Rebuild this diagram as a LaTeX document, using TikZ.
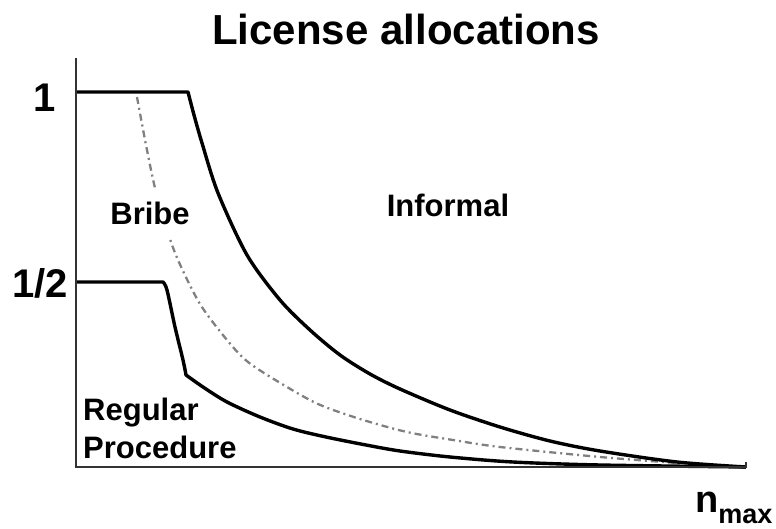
\documentclass[tikz,border=0pt]{standalone}
\usepackage{fontspec}
\setmainfont{Liberation Sans}
\usepackage{tikz}

\begin{document}
\begin{tikzpicture}[x=1pt,y=1pt,
		curve/.style={line width=3.4pt, line join=round},
		bribeline/.style={gray, line width=2.3pt, dash pattern=on 7pt off 4pt on 2pt off 4pt},
		axis/.style={line width=1.6pt, black!80},
		lbl/.style={inner sep=0pt, anchor=base, font=\fontsize{31}{38}\selectfont\bfseries}]
		\useasboundingbox (-76,-61) rectangle (700,467);
		\coordinate (O) at (0,0);
		\coordinate (ytop) at (0,409);
		\coordinate (xend) at (670,0);
		\coordinate (full) at (0,375);
		\coordinate (half) at (0,185);
		
		% dash-dot curve between Bribe and Informal
		\draw[bribeline] plot[smooth] coordinates {(61,370) (70,322) (79,279) (90,240) (102,207) (124,163) (151,127) (172,105) (206,83) (242,63) (284,48) (331,35) (377,27) (424,20) (524,10) (601,4)};
		
		\draw[curve] (full) -- (112,375) -- plot[smooth] coordinates {(112,375) (118,352) (126,324) (142,274) (171,212) (204,167) (234,137) (264,112) (294,93) (324,78) (374,57) (424,40) (474,26) (524,16) (601,5) (670,0)};
		\draw[curve] (half) -- (87,185) -- plot[smooth] coordinates {(87,185) (91,177) (99,140) (107,107) (110,92)}
			-- plot[smooth] coordinates {(110,92) (127,80) (151,65) (184,50) (217,38) (250,30) (290,22) (324,16) (374,10) (437,5) (524,2) (670,0)};
		
		\draw[axis] (ytop) -- (O) -- (xend) -- ++(0,5);
		
		\node[lbl, font=\fontsize{42}{42}\selectfont\bfseries] (title) at (330,422) {License allocations};
		\node[lbl, anchor=base east, font=\fontsize{40}{40}\selectfont\bfseries] (one) at (-20,355) {1};
		\node[lbl, anchor=base east, font=\fontsize{40}{40}\selectfont\bfseries] (onehalf) at (-8,170) {1/2};
		\node[lbl, fill=white, inner xsep=3pt, inner ysep=14pt] (bribe) at (74,243) {Bribe};
		\node[lbl] (informal) at (372,250) {Informal};
		\node[lbl, anchor=north west, align=left] (regular) at (7,69) {Regular\\Procedure};
		\node[lbl, anchor=base west, font=\fontsize{38}{38}\selectfont\bfseries] (nmax) at (619,-45) {n\raisebox{-11pt}{\fontsize{27}{27}\selectfont max}};
	\end{tikzpicture}
\end{document}
